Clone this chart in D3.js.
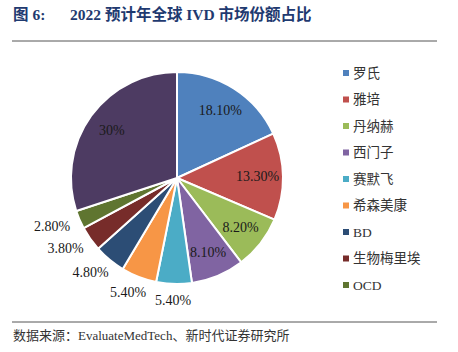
<!DOCTYPE html>
<html>
<head>
<meta charset="utf-8">
<script src="https://cdn.jsdelivr.net/npm/d3@7"></script>
<style>
  body { margin: 0; background: #fff; }
  svg { display: block; }
</style>
</head>
<body>
<div id="chart"></div>
<script>
// 2022 IVD market share (%)
const companies = ["罗氏", "雅培", "丹纳赫", "西门子", "赛默飞", "希森美康", "BD", "生物梅里埃", "OCD", "其他"];
const shares = [18.1, 13.3, 8.2, 8.1, 5.4, 5.4, 4.8, 3.8, 2.8, 30];
const shareLabels = ["18.10%", "13.30%", "8.20%", "8.10%", "5.40%", "5.40%", "4.80%", "3.80%", "2.80%", "30%"];
const palette = ["#4f81bd", "#c0504d", "#9bbb59", "#8064a2", "#4bacc6", "#f79646", "#2c4d75", "#772c2a", "#5f7530", "#4d3b62"];

const width = 458, height = 352;
const cx = 177, cy = 178, r = 106;

const svg = d3.select("#chart").append("svg")
  .attr("width", width)
  .attr("height", height);

// title + rules
const title = svg.append("text")
  .attr("y", 20)
  .attr("font-family", "'Liberation Serif', 'Noto Sans CJK SC', serif")
  .attr("font-weight", "bold")
  .attr("font-size", 15.5)
  .attr("fill", "#1f3a70");
title.append("tspan").attr("x", 13).text("图 6:");
title.append("tspan").attr("x", 70).text("2022 预计年全球 IVD 市场份额占比");

svg.append("line").attr("x1", 12).attr("x2", 437).attr("y1", 41).attr("y2", 41)
  .attr("stroke", "#555").attr("stroke-width", 1);
svg.append("line").attr("x1", 12).attr("x2", 437).attr("y1", 322).attr("y2", 322)
  .attr("stroke", "#555").attr("stroke-width", 1);

svg.append("text")
  .attr("x", 13).attr("y", 340)
  .attr("font-family", "'Liberation Serif', 'Noto Sans CJK SC', serif")
  .attr("font-size", 13)
  .attr("fill", "#333")
  .text("数据来源：EvaluateMedTech、新时代证券研究所");

// pie
const pie = d3.pie().sort(null).value(d => d);
const arcs = pie(shares);
const arc = d3.arc().innerRadius(0).outerRadius(r);

const g = svg.append("g").attr("transform", `translate(${cx},${cy})`);

g.selectAll("path")
  .data(arcs)
  .enter().append("path")
  .attr("d", arc)
  .attr("fill", (d, i) => palette[i])
  .attr("stroke", "#fff")
  .attr("stroke-width", 2)
  .attr("stroke-linejoin", "round");

// labels: inside for large slices, outside for small ones
const inner = d3.arc().innerRadius(r * 0.76).outerRadius(r * 0.76);
const outer = d3.arc().innerRadius(r + 10).outerRadius(r + 10);

g.selectAll("text.lbl")
  .data(arcs)
  .enter().append("text")
  .attr("class", "lbl")
  .attr("font-family", "'Liberation Serif', serif")
  .attr("font-size", 14)
  .attr("fill", "#1a1a1a")
  .attr("text-anchor", "middle")
  .attr("dominant-baseline", "central")
  .attr("transform", d => {
    const mid = (d.startAngle + d.endAngle) / 2;
    if (d.value > 6) {
      const [x, y] = inner.centroid(d);
      return `translate(${x},${y})`;
    }
    const [x, y] = outer.centroid(d);
    return `translate(${x + 20 * Math.sin(mid)},${y - 7 * Math.cos(mid)})`;
  })
  .text((d, i) => shareLabels[i]);

// legend (first nine)
const legend = svg.append("g");
const rowH = 26.5;
const items = legend.selectAll("g")
  .data(companies.slice(0, 9))
  .enter().append("g")
  .attr("transform", (d, i) => `translate(343,${73 + i * rowH})`);

items.append("rect")
  .attr("x", 0).attr("y", -3)
  .attr("width", 6).attr("height", 6)
  .attr("fill", (d, i) => palette[i]);

items.append("text")
  .attr("x", 10).attr("y", 0)
  .attr("dominant-baseline", "central")
  .attr("font-family", "'Liberation Serif', 'Noto Sans CJK SC', serif")
  .attr("font-size", 13.5)
  .attr("fill", "#333")
  .text(d => d);
</script>
</body>
</html>
